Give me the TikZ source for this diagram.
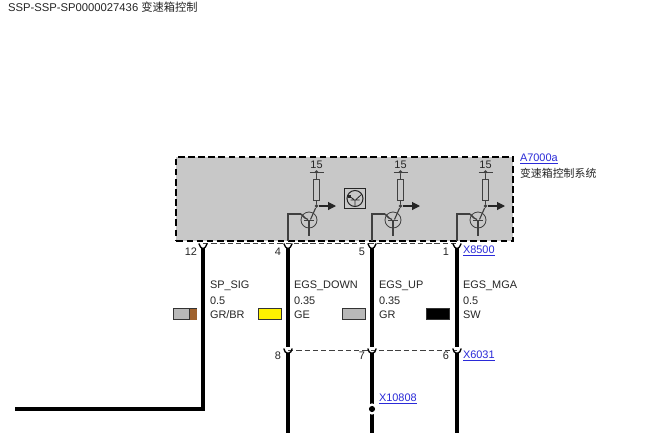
\documentclass[tikz,border=0pt]{standalone}
\usepackage{fontspec}
\setmainfont{Liberation Sans}
\newfontfamily\cjk{Noto Sans CJK SC}
\usetikzlibrary{arrows.meta,positioning,calc}
\definecolor{linkColor}{HTML}{2A2AD8}
\definecolor{boxColor}{HTML}{C8C8C8}
\definecolor{greyColor}{HTML}{B8B8B8}
\definecolor{brownColor}{HTML}{A0622D}
\definecolor{symColor}{HTML}{404040}
\newcommand{\lnk}[1]{\textcolor{linkColor}{\underline{#1}}}
\tikzset{
	txt/.style={font=\fontsize{8.2}{9}\selectfont,inner sep=0,outer sep=0,anchor=west,text=black!85},
	num/.style={txt,anchor=east},
	wire/.style={line width=2.9pt,black},
	thinwire/.style={line width=0.85pt,symColor},
	sep/.style={line width=0.75pt,dash pattern=on 4pt off 2.2pt,black!75},
	cup/.style={line width=1pt,black,rounded corners=1pt},
	swatch/.style={draw=black!80,line width=0.7pt,inner sep=0,minimum width=17.2pt,minimum height=8.2pt,anchor=north west},
	res/.style={draw=symColor,fill=boxColor,line width=0.6pt,inner sep=0,minimum width=4.2pt,minimum height=15.7pt},
	tran/.style={draw=symColor,circle,line width=0.6pt,inner sep=0,minimum size=12pt},
	jn/.style={fill=symColor,circle,inner sep=0,minimum size=2.8pt}
}
\begin{document}
\begin{tikzpicture}[x=0.75pt,y=-0.75pt]
	\useasboundingbox (0,0) rectangle (647,433);
	\fill[white] (0,0) rectangle (647,433);

	\node[txt,font=\fontsize{8.45}{9}\selectfont] (title) at (8,7.5) {SSP-SSP-SP0000027436 {\cjk 变速箱控制}};

	% control unit
	\node[draw=black,fill=boxColor,line width=1.5pt,dash pattern=on 5pt off 2.6pt,inner sep=0,
		minimum width=252.5pt,minimum height=63.5pt,anchor=north west] (a7000) at (175.4,155.6) {};
	\node[txt] (a7000name) at (520,159) {\lnk{A7000a}};
	\node[txt] (a7000text) at (520,173) {\cjk 变速箱控制系统};

	% connector pins
	\foreach \n/\x in {a/203,b/288,c/372,d/457} {
		\coordinate (top\n) at (\x,241);
		\coordinate (up\n) at (\x,248);
		\coordinate (upin\n) at (\x,347);
		\coordinate (lo\n) at (\x,353);
		\coordinate (end\n) at (\x,433);
	}
	\coordinate (lowa) at (203,409);
	\coordinate (enda) at (15,409);

	% output stages
	\foreach \n/\x/\y in {b/288/309,c/372/393,d/457/478} {
		\node[tran] (t\n) at (\y,220) {};
		\node[res] (r\n) at (\y+7.5,189.5) {};
		\node[jn] (j\n) at (\y+7.5,206) {};
		\node[jn] (k\n) at (\y+7.5,172) {};
		\node[txt,anchor=center] (v\n) at (\y+7.5,165) {15};
		\coordinate (b\n) at (\y-8,214);
		\coordinate (arr\n) at (\y+27,206);
		\coordinate (bar\n) at (\y+14.5,172);
		\coordinate (bal\n) at (\y+0.5,172);
		\coordinate (em\n) at (\y,236);
		\coordinate (ins\n) at (\y,220);
		\draw[thinwire,line width=0.6pt] (bal\n) -- (bar\n);
		\draw[thinwire,line width=0.6pt] (k\n) -- (r\n);
		\draw[thinwire,line width=0.6pt] (r\n) -- (j\n);
		\draw[thinwire,black!85,-{Triangle[length=6pt,width=6pt]}] (j\n) -- (arr\n);
		\draw[thinwire] (top\n) |- (b\n);
		\draw[thinwire,line width=1.2pt] (b\n) -- (\y-4,218);
		\draw[thinwire] (\y-4,218) -- (\y-1,219.5);
		\draw[thinwire] (\y+1.5,219.5) -- (j\n);
		\draw[thinwire] (\y-5,220.5) -- (\y+5,220.5);
		\draw[thinwire] (\y,220.5) -- (em\n);
	}

	% small transistor sign
	\node[draw=black!85,fill=boxColor,line width=0.75pt,minimum size=15.5pt,inner sep=0] (sign) at (355,198.5) {};
	\node[tran,draw=black!85,line width=0.75pt] (signt) at (355,198.5) {};
	\draw[black!85,line width=0.6pt] (349,196) -- (354,199.5) (362,194) -- (356,199.5)
		(350.5,200) -- (359.5,200) (355,200) -- (355,206.5);
	\fill[black!85] (348,195) rectangle (351,198);

	% separators
	\draw[sep] (topa) ++(0,2) -- ($(topd)+(0,2)$);
	\draw[sep] (upinb) ++(0,3) -- ($(upind)+(0,3)$);

	% wires
	\draw[greyColor!70!black,line width=1.2pt] ($(upa)+(1.6,0)$) -- ($(lowa)+(1.6,0)$);
	\draw[wire] (upa) -- (lowa) -- (enda);
	\draw[wire] (upb) -- (upinb);
	\draw[wire] (upc) -- (upinc);
	\draw[wire] (upd) -- (upind);
	\draw[wire] (lob) -- (endb);
	\draw[wire] (loc) -- (endc);
	\draw[wire] (lod) -- (endd);

	% cups at the pins
	\foreach \n in {a,b,c,d} {
		\draw[cup] (top\n) ++(-4.2,2.5) -- ++(2.6,5) -- ++(3.2,0) -- ++(2.6,-5);
	}
	\foreach \n in {b,c,d} {
		\draw[cup] (upin\n) ++(-4.2,1.5) -- ++(1.8,4.5) -- ++(4.8,0) -- ++(1.8,-4.5);
	}

	% splice
	\node[circle,fill=white,inner sep=0,minimum size=8.5pt] (splice) at (372,409) {};
	\node[circle,fill=black,inner sep=0,minimum size=4.6pt] (spliced) at (372,409) {};
	\node[txt] (x10808) at (379,399) {\lnk{X10808}};

	% pin numbers
	\node[num] (n12) at (197,252) {12};
	\node[num] (n4) at (281,252) {4};
	\node[num] (n5) at (365,252) {5};
	\node[num] (n1) at (449,252) {1};
	\node[txt] (x8500) at (463,251) {\lnk{X8500}};
	\node[num] (n8) at (281,356) {8};
	\node[num] (n7) at (365,356) {7};
	\node[num] (n6) at (449,356) {6};
	\node[txt] (x6031) at (463,356) {\lnk{X6031}};

	% wire data
	\foreach \n/\x/\a/\b/\c in {a/210/SP\_SIG/0.5/GR\slash BR,b/294/EGS\_DOWN/0.35/GE,c/379/EGS\_UP/0.35/GR,d/463/EGS\_MGA/0.5/SW} {
		\node[txt] (name\n) at (\x,286) {\a};
		\node[txt] (size\n) at (\x,301) {\b};
		\node[txt] (col\n) at (\x,314.5) {\c};
	}
	\node[swatch,fill=greyColor] (sa) at (173,308) {};
	\fill[brownColor] (189,308.5) rectangle (196.5,319.5);
	\draw[black!80,line width=0.7pt] (189,308) -- (189,320);
	\node[swatch,fill=yellow] (sb) at (258,308) {};
	\node[swatch,fill=greyColor] (sc) at (342,308) {};
	\node[swatch,fill=black] (sd) at (426,308) {};
\end{tikzpicture}
\end{document}
